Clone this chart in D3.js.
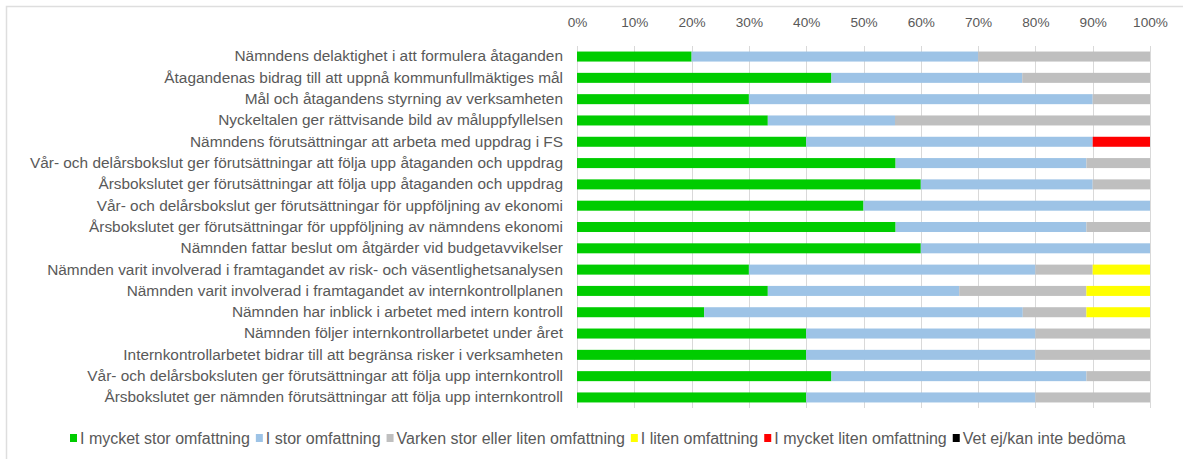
<!DOCTYPE html>
<html>
<head>
<meta charset="utf-8">
<script src="https://cdn.jsdelivr.net/npm/d3@7"></script>
<style>
  html, body { margin: 0; padding: 0; background: #fff; }
  svg { display: block; }
  text { font-family: "Liberation Sans", Arial, sans-serif; fill: #595959; }
</style>
</head>
<body>
<svg id="chart" width="1183" height="459"></svg>
<script>
// Survey statements (top to bottom)
const categories = [
  "Nämndens delaktighet i att formulera åtaganden",
  "Åtagandenas bidrag till att uppnå kommunfullmäktiges mål",
  "Mål och åtagandens styrning av verksamheten",
  "Nyckeltalen ger rättvisande bild av måluppfyllelsen",
  "Nämndens förutsättningar att arbeta med uppdrag i FS",
  "Vår- och delårsbokslut ger förutsättningar att följa upp åtaganden och uppdrag",
  "Årsbokslutet ger förutsättningar att följa upp åtaganden och uppdrag",
  "Vår- och delårsbokslut ger förutsättningar för uppföljning av ekonomi",
  "Årsbokslutet ger förutsättningar för uppföljning av nämndens ekonomi",
  "Nämnden fattar beslut om åtgärder vid budgetavvikelser",
  "Nämnden varit involverad i framtagandet av risk- och väsentlighetsanalysen",
  "Nämnden varit involverad i framtagandet av internkontrollplanen",
  "Nämnden har inblick i arbetet med intern kontroll",
  "Nämnden följer internkontrollarbetet under året",
  "Internkontrollarbetet bidrar till att begränsa risker i verksamheten",
  "Vår- och delårsboksluten ger förutsättningar att följa upp internkontroll",
  "Årsbokslutet ger nämnden förutsättningar att följa upp internkontroll"
];

// Response shares in percent, one array per answer option
const mycketStor = [20, 44.4, 30, 33.3, 40, 55.6, 60, 50, 55.6, 60, 30, 33.3, 22.2, 40, 40, 44.4, 40];
const stor       = [50, 33.3, 60, 22.2, 50, 33.3, 30, 50, 33.3, 40, 50, 33.4, 55.6, 40, 40, 44.5, 40];
const varken     = [30, 22.3, 10, 44.5, 0, 11.1, 10, 0, 11.1, 0, 10, 22.2, 11.1, 20, 20, 11.1, 20];
const liten      = [0, 0, 0, 0, 0, 0, 0, 0, 0, 0, 10, 11.1, 11.1, 0, 0, 0, 0];
const mycketLiten= [0, 0, 0, 0, 10, 0, 0, 0, 0, 0, 0, 0, 0, 0, 0, 0, 0];
const vetEj      = [0, 0, 0, 0, 0, 0, 0, 0, 0, 0, 0, 0, 0, 0, 0, 0, 0];

const seriesNames = [
  "I mycket stor omfattning",
  "I stor omfattning",
  "Varken stor eller liten omfattning",
  "I liten omfattning",
  "I mycket liten omfattning",
  "Vet ej/kan inte bedöma"
];
const seriesColors = ["#00cc00", "#9dc3e6", "#bfbfbf", "#ffff00", "#ff0000", "#000000"];
const tickValues = [0, 10, 20, 30, 40, 50, 60, 70, 80, 90, 100];

const seriesValues = [mycketStor, stor, varken, liten, mycketLiten, vetEj];
const rows = categories.map((c, i) => {
  const r = { category: c };
  seriesNames.forEach((s, k) => { r[s] = seriesValues[k][i]; });
  return r;
});

const svg = d3.select("#chart");

// outer chart frame
svg.append("rect")
  .attr("x", 6.5).attr("y", 6.5)
  .attr("width", 1300).attr("height", 600)
  .attr("fill", "none").attr("stroke", "#dedede").attr("stroke-width", 1.5);

const plot = { left: 577, right: 1150, top: 46, bottom: 408 };

const x = d3.scaleLinear().domain([0, 100]).range([plot.left, plot.right]);
const y = d3.scaleBand()
  .domain(categories)
  .range([plot.top, plot.bottom])
  .paddingInner(0.53)
  .paddingOuter(0.26);

// vertical gridlines
svg.append("g")
  .selectAll("line")
  .data(tickValues)
  .join("line")
  .attr("x1", d => Math.round(x(d)) + 0.5)
  .attr("x2", d => Math.round(x(d)) + 0.5)
  .attr("y1", plot.top)
  .attr("y2", plot.bottom)
  .attr("stroke", "#d9d9d9")
  .attr("stroke-width", 1);

// top percentage axis
const xAxis = svg.append("g")
  .attr("transform", `translate(0,${plot.top - 16})`)
  .call(d3.axisTop(x).tickValues(tickValues).tickFormat(d => d + "%").tickSize(0));
xAxis.select(".domain").remove();
xAxis.selectAll("text")
  .style("font-size", "13.6px")
  .attr("fill", "#595959");

// stacked bars
const stack = d3.stack().keys(seriesNames);
const stacked = stack(rows);

svg.append("g")
  .selectAll("g")
  .data(stacked)
  .join("g")
  .attr("fill", (d, i) => seriesColors[i])
  .selectAll("rect")
  .data(d => d)
  .join("rect")
  .attr("x", d => x(d[0]))
  .attr("y", d => y(d.data.category))
  .attr("width", d => Math.max(0, x(d[1]) - x(d[0])))
  .attr("height", y.bandwidth());

// category labels
const yAxis = svg.append("g")
  .attr("transform", `translate(${plot.left - 14},0)`)
  .call(d3.axisLeft(y).tickSize(0).tickPadding(0));
yAxis.select(".domain").remove();
yAxis.selectAll("text")
  .style("font-size", "15.4px")
  .attr("fill", "#595959");

// legend
const legend = svg.append("g").attr("transform", "translate(0,438)");
let lx = 70;
seriesNames.forEach((name, i) => {
  legend.append("rect")
    .attr("x", lx).attr("y", -4)
    .attr("width", 7).attr("height", 8)
    .attr("fill", seriesColors[i]);
  const t = legend.append("text")
    .attr("x", lx + 10).attr("y", 0)
    .attr("dy", "0.35em")
    .style("font-size", "16px")
    .text(name);
  lx += 10 + t.node().getComputedTextLength() + 6;
});
</script>
</body>
</html>
